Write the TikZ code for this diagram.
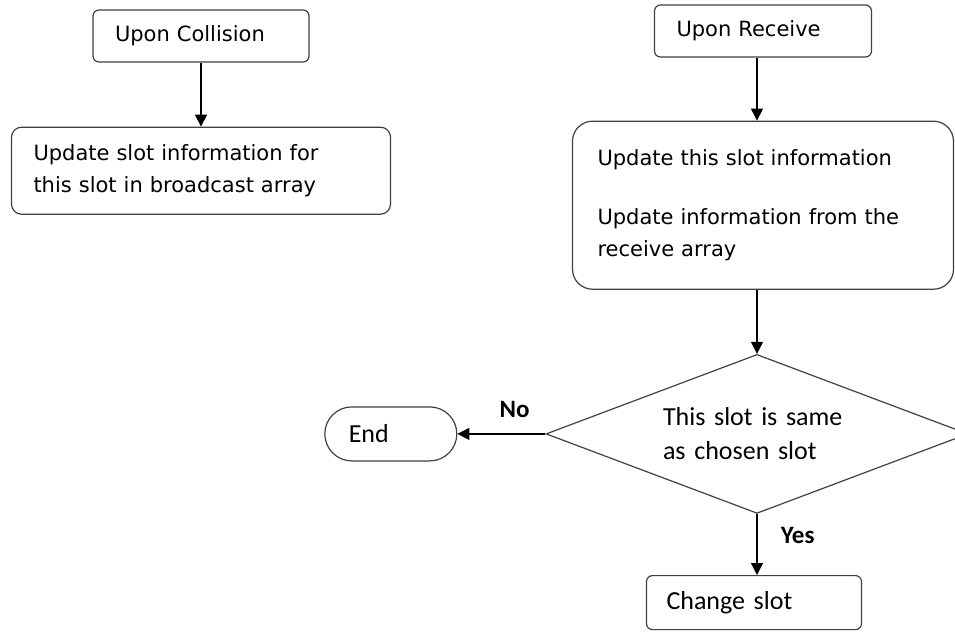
\documentclass[tikz,border=0pt]{standalone}
\usepackage{fontspec}
\setmainfont{Carlito}
\newfontfamily\dejavu{DejaVu Sans}
\usetikzlibrary{arrows.meta,positioning,shapes.geometric}

\tikzstyle{bx} = [rectangle, draw=black!75, rounded corners=6pt, align=left,
    font=\dejavu\fontsize{21}{32}\selectfont, inner xsep=22pt, inner ysep=0pt]
\tikzstyle{tm} = [rectangle, draw=black!75, align=left,
    font=\fontsize{26}{32}\selectfont, minimum height=54pt]
\tikzstyle{dm} = [diamond, draw=black!75, aspect=2.65, minimum width=422pt,
    minimum height=159pt, text width=188pt, align=left, inner sep=0pt,
    font=\fontsize{26}{34}\selectfont]
\tikzstyle{lb} = [font=\bfseries\fontsize{25}{25}\selectfont, black]

\begin{document}
\begin{tikzpicture}[x=1pt,y=-1pt,->,>={Triangle[length=12pt,width=12pt]},
                    line width=1.2pt]
  \path[use as bounding box, clip] (0,0) rectangle (955,632);

  \node[bx, text width=172pt, minimum height=52pt] (coll) at (201,36) {Upon Collision};
  \node[bx, text width=335pt, minimum height=87pt, rounded corners=10pt] (bcast) [below=64pt of coll] {Update slot information for\\ this slot in broadcast array};

  \node[bx, text width=173pt, minimum height=52pt] (recv) at (763,31) {Upon Receive};
  \node[bx, text width=331pt, minimum height=168pt, inner xsep=25pt, rounded corners=20pt] (upd) [below=63pt of recv] {Update this slot information\\[27pt] Update information from the\\ receive array\\[6pt]};
  \node[dm] (same) [below=64pt of upd, xshift=-6pt] {This slot is same\\ as chosen slot};
  \node[tm, rounded corners=6pt, inner xsep=20pt, text width=175pt] (chg) [below=61pt of same, xshift=-3pt] {Change slot};
  \node[tm, rounded corners=27pt, inner xsep=24pt, text width=84pt] (fin) [left=88pt of same] {End};

  \path (coll) edge (bcast)
  (recv.south -| same.center) edge (upd.north -| same.center)
  (upd.south -| same.center) edge (same)
  (same) edge node[lb, pos=.35, above=12pt] {No} (fin)
  (same) edge node[lb, pos=.36, right=20pt] {Yes} (chg.north -| same.center);
\end{tikzpicture}
\end{document}
